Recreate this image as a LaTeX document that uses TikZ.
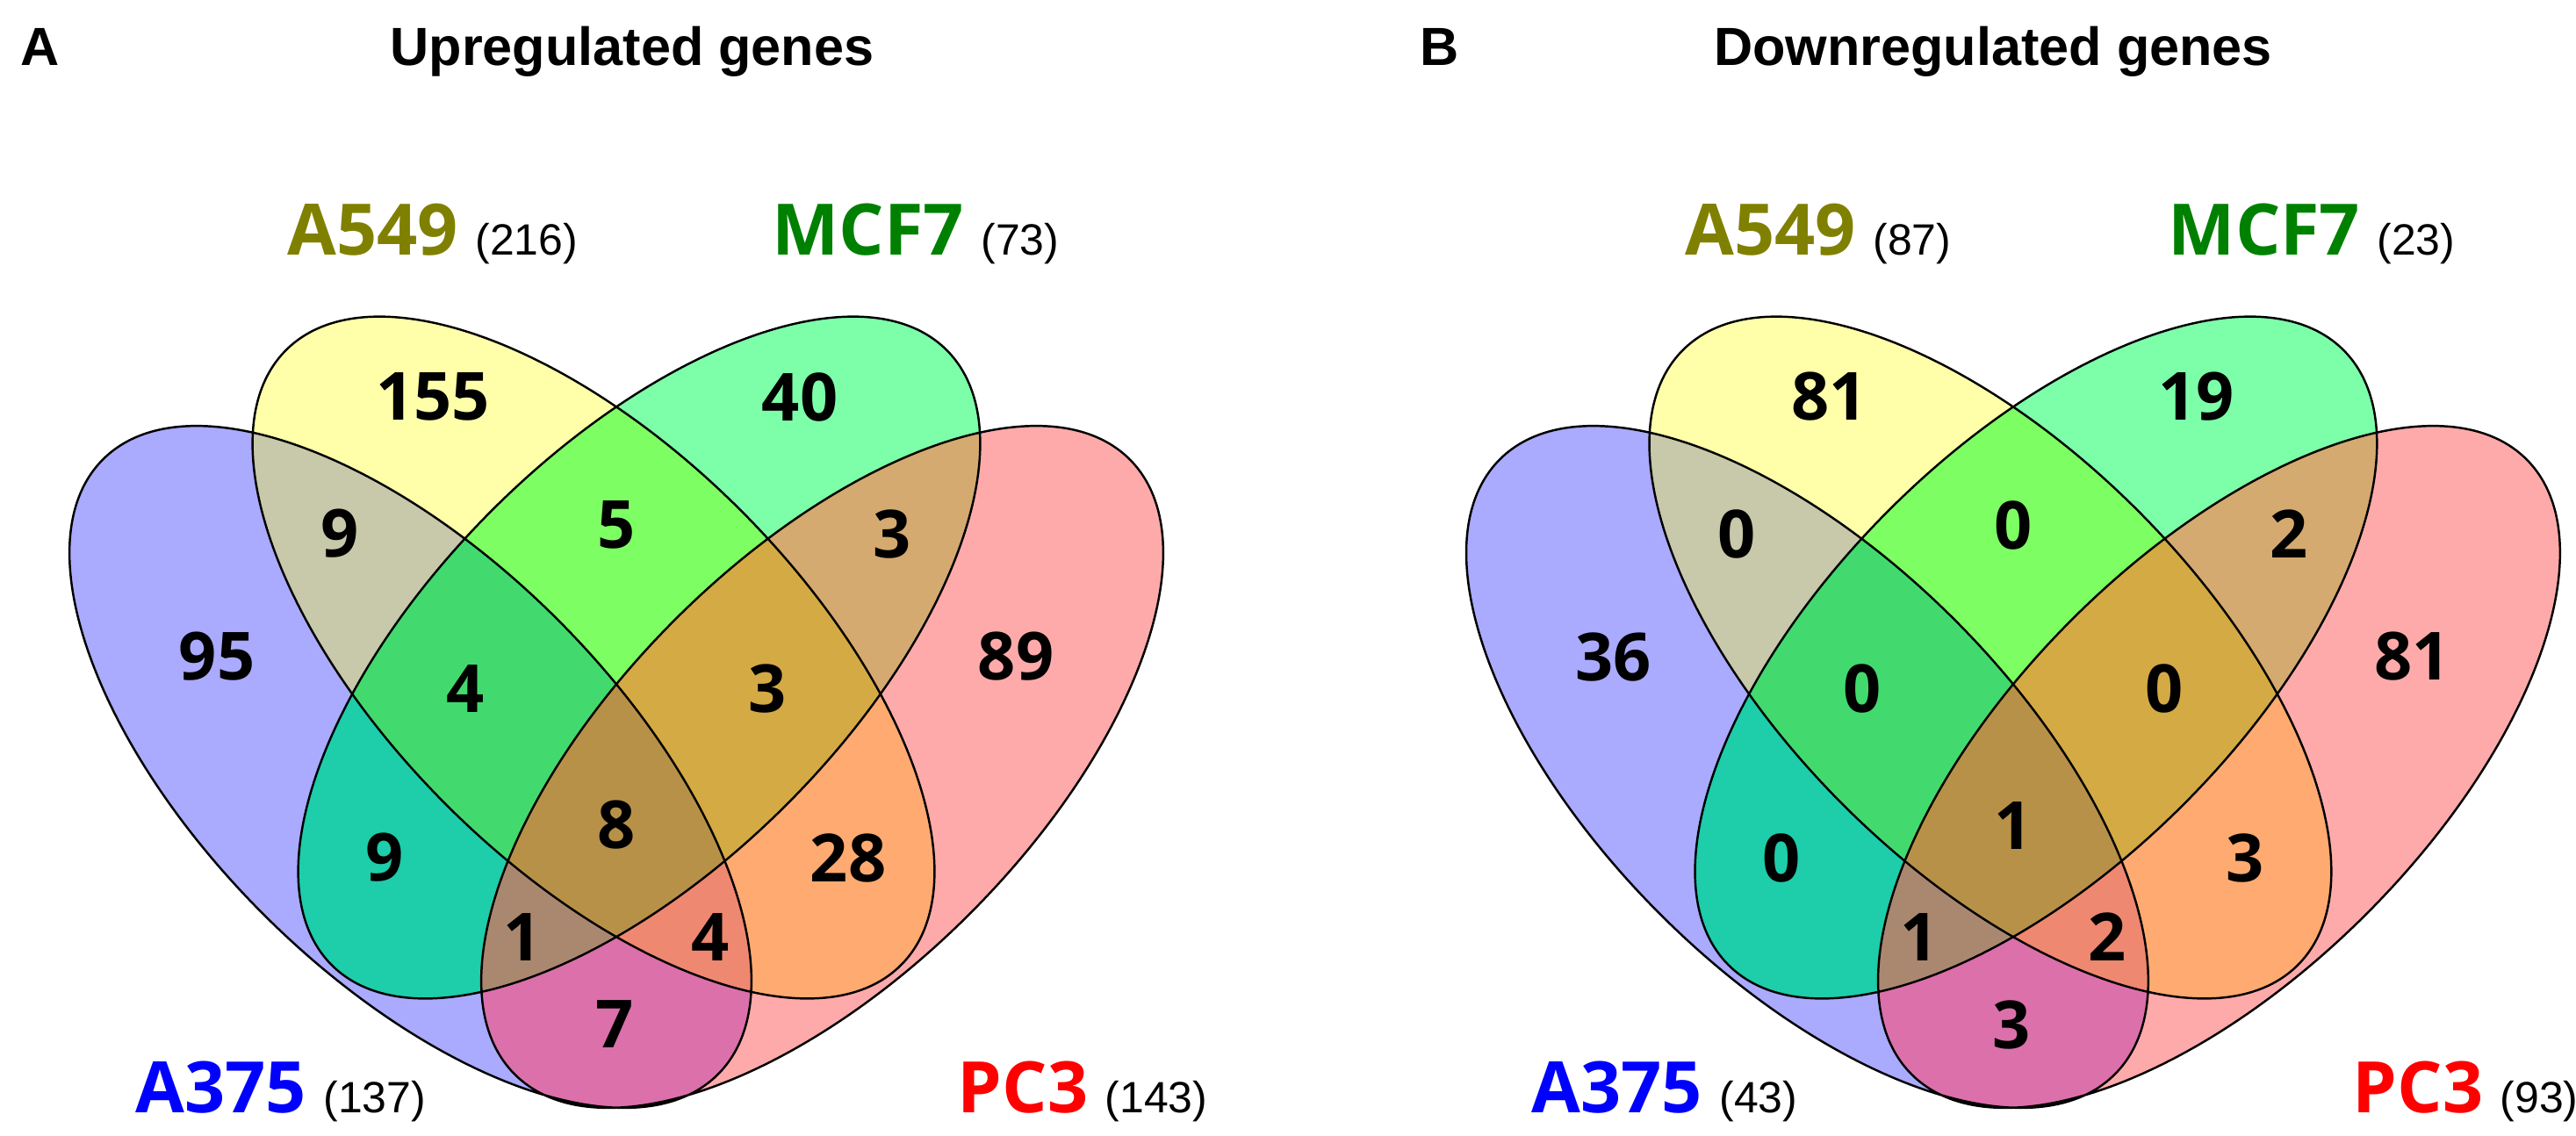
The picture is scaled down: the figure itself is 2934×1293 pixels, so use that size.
\documentclass[tikz,border=0pt]{standalone}
\usepackage{fontspec}
\setmainfont{Liberation Sans}
\newfontfamily\numfont{Open Sans}
\usetikzlibrary{positioning}

% fills of the fifteen regions (A = A375, B = A549, C = MCF7, D = PC3)
\definecolor{cA}{RGB}{170,170,255}
\definecolor{cB}{RGB}{255,255,170}
\definecolor{cC}{RGB}{125,255,170}
\definecolor{cD}{RGB}{255,170,170}
\definecolor{cAB}{RGB}{200,200,170}
\definecolor{cAC}{RGB}{30,205,170}
\definecolor{cAD}{RGB}{220,112,170}
\definecolor{cBC}{RGB}{125,255,100}
\definecolor{cBD}{RGB}{255,170,112}
\definecolor{cCD}{RGB}{212,170,112}
\definecolor{cABC}{RGB}{66,218,110}
\definecolor{cABD}{RGB}{238,136,112}
\definecolor{cACD}{RGB}{170,136,112}
\definecolor{cBCD}{RGB}{212,170,68}
\definecolor{cABCD}{RGB}{184,145,72}
% label colours
\definecolor{olivetxt}{RGB}{128,128,0}
\definecolor{greentxt}{RGB}{0,128,0}

\tikzset{
  % outline of the four ellipses
  vennline/.style={draw=black, line width=0.7pt},
  % number in a region
  tally/.style={font=\numfont\bfseries\fontsize{21.5}{24}\selectfont, inner sep=0pt},
  % name of a cell line
  setname/.style={font=\numfont\bfseries\fontsize{23}{26}\selectfont,
    inner sep=0pt, anchor=base west},
  % size of a set, after its name
  setsize/.style={font=\fontsize{14.2}{16}\selectfont, inner sep=0pt},
  paneltitle/.style={font=\bfseries\fontsize{17.4}{20}\selectfont,
    inner sep=0pt, anchor=base},
}

% the four ellipses of one panel
\newcommand\shapeA{(467.5,873.5) ellipse [x radius=4.95cm, y radius=2.37cm, rotate=-45]}
\newcommand\shapeB{(676,749) ellipse [x radius=4.95cm, y radius=2.37cm, rotate=-45]}
\newcommand\shapeC{(728,749) ellipse [x radius=4.95cm, y radius=2.37cm, rotate=45]}
\newcommand\shapeD{(936.5,873.5) ellipse [x radius=4.95cm, y radius=2.37cm, rotate=45]}

% fill what lies inside the clips #1 with colour #2
\newcommand\region[2]{\begin{scope}#1\fill[#2] (0,0) rectangle (1500,1293);\end{scope}}

\newcommand\vennfills{%
  \region{\clip\shapeA;}{cA}
  \region{\clip\shapeB;}{cB}
  \region{\clip\shapeC;}{cC}
  \region{\clip\shapeD;}{cD}
  \region{\clip\shapeA;\clip\shapeB;}{cAB}
  \region{\clip\shapeA;\clip\shapeC;}{cAC}
  \region{\clip\shapeA;\clip\shapeD;}{cAD}
  \region{\clip\shapeB;\clip\shapeC;}{cBC}
  \region{\clip\shapeB;\clip\shapeD;}{cBD}
  \region{\clip\shapeC;\clip\shapeD;}{cCD}
  \region{\clip\shapeA;\clip\shapeB;\clip\shapeC;}{cABC}
  \region{\clip\shapeA;\clip\shapeB;\clip\shapeD;}{cABD}
  \region{\clip\shapeA;\clip\shapeC;\clip\shapeD;}{cACD}
  \region{\clip\shapeB;\clip\shapeC;\clip\shapeD;}{cBCD}
  \region{\clip\shapeA;\clip\shapeB;\clip\shapeC;\clip\shapeD;}{cABCD}
  \draw[vennline] \shapeA \shapeB \shapeC \shapeD;
}

\begin{document}
\begin{tikzpicture}[x=0.01cm,y=-0.01cm]
\useasboundingbox (0,0) rectangle (2934,1293);

% panel A
\vennfills
% panel B
\begin{scope}[xshift=15.9cm]
  \vennfills
\end{scope}

% counts: position / upregulated / downregulated
\foreach \p/\u/\d [count=\i] in {(493,452)/155/81, (911,452)/40/19,
    (387,608)/9/0, (1016,608)/3/2, (247,748)/95/36, (1157,748)/89/81,
    (702,598)/5/0, (530,784)/4/0, (874,784)/3/0, (438,977)/9/0,
    (966,977)/28/3, (702,940)/8/1, (595,1067)/1/1, (809,1067)/4/2,
    (700,1167)/7/3}{
  \node[tally] (up\i) at \p {\u};
  \node[tally, xshift=15.9cm] (down\i) at \p {\d};
}

% titles
\node[paneltitle, anchor=base west] (tagA) at (23,74) {A};
\node[paneltitle] (titleA) at (720,74) {Upregulated genes};
\node[paneltitle, anchor=base west] (tagB) at (1617,74) {B};
\node[paneltitle] (titleB) at (2270,74) {Downregulated genes};

% set names, panel A
\node[setname, text=olivetxt] (upA549) at (327,290) {A549};
\node[setsize, base right=0.18cm of upA549] (upA549n) {(216)};
\node[setname, text=greentxt] (upMCF7) at (879,290) {MCF7};
\node[setsize, base right=0.18cm of upMCF7] (upMCF7n) {(73)};
\node[setname, text=blue] (upA375) at (154,1267) {A375};
\node[setsize, base right=0.18cm of upA375] (upA375n) {(137)};
\node[setname, text=red] (upPC3) at (1090,1267) {PC3};
\node[setsize, base right=0.18cm of upPC3] (upPC3n) {(143)};

% set names, panel B
\node[setname, text=olivetxt] (downA549) at (1919,290) {A549};
\node[setsize, base right=0.18cm of downA549] (downA549n) {(87)};
\node[setname, text=greentxt] (downMCF7) at (2469,290) {MCF7};
\node[setsize, base right=0.18cm of downMCF7] (downMCF7n) {(23)};
\node[setname, text=blue] (downA375) at (1744,1267) {A375};
\node[setsize, base right=0.18cm of downA375] (downA375n) {(43)};
\node[setname, text=red] (downPC3) at (2679,1267) {PC3};
\node[setsize, base right=0.18cm of downPC3] (downPC3n) {(93)};
\end{tikzpicture}
\end{document}
